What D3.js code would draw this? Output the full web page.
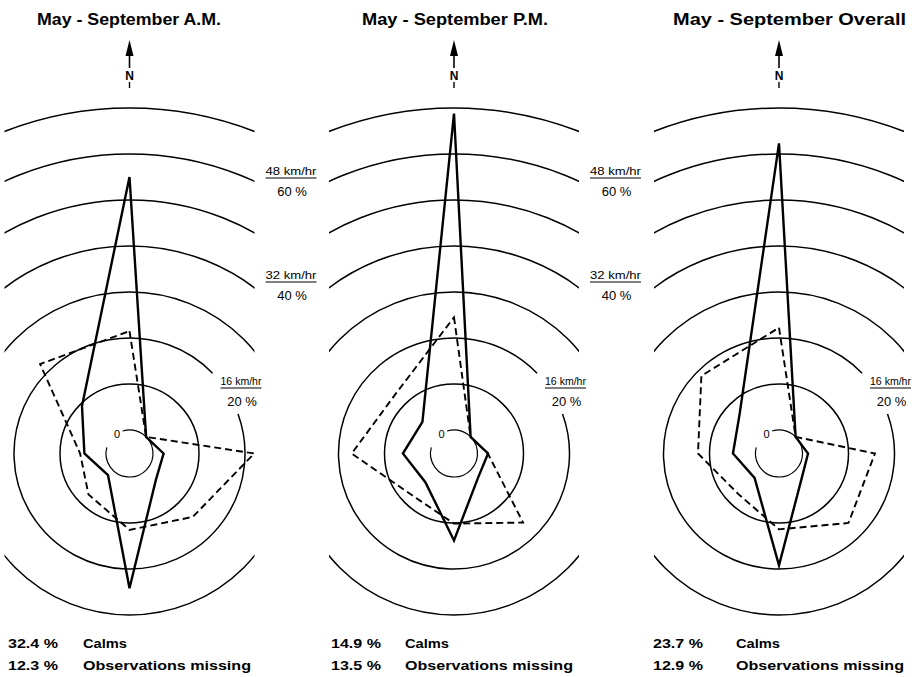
<!DOCTYPE html>
<html><head><meta charset="utf-8">
<script src="https://cdn.jsdelivr.net/npm/d3@7"></script>
<style>body{margin:0;background:#fff}svg{display:block}</style>
</head><body>
<svg id="chart" width="923" height="677"></svg>
<script>
// ---------------- DATA ----------------
const directions = ["N", "NE", "E", "SE", "S", "SW", "W", "NW"];
const panelTitles = ["May - September  A.M.", "May - September  P.M.", "May - September  Overall"];
// percent frequency of wind direction (solid line)
const freqAM      = [55.0, 0, 2.3, 3.0, 24.2, 1.5, 4.7, 9.5];
const freqPM      = [68.8, 0, 2.3, 2.3, 13.8, 3.7, 6.0, 4.6];
const freqOverall = [62.3, 0, 1.2, 2.0, 19.2, 2.4, 4.9, 7.0];
// mean wind speed, km/hr (dashed line)
const speedAM      = [17.2, 0, 17.6, 11.5, 9.2, 6.0, 4.5, 17.9];
const speedPM      = [19.6, 0, 1.8, 12.9, 8.1, 6.2, 13.7, 10.4];
const speedOverall = [17.8, 0, 12.6, 13.0, 9.1, 5.9, 10.0, 15.0];
const calmsPct   = ["32.4 %", "14.9 %", "23.7 %"];
const missingPct = ["12.3 %", "13.5 %", "12.9 %"];
const ringPercents = [10, 20, 30, 40, 50, 60, 70];
const speedTickLabels = ["16 km/hr", "32 km/hr", "48 km/hr"];
const pctTickLabels   = ["20 %", "40 %", "60 %"];

// ---------------- LAYOUT ----------------
const W = 923, H = 677;
const centersX = [129.5, 454, 779];
const centerY = 453.5;
const R0 = 23.5, ringStep = 46;
const freqSeries = [freqAM, freqPM, freqOverall];
const speedSeries = [speedAM, speedPM, speedOverall];
const titleX = [37, 362, 673], titleW = [184, 186, 233];
const noteX1 = [8, 331, 653], noteX2 = [83, 405, 736];

const svg = d3.select("#chart");
svg.append("rect").attr("width", W).attr("height", H).attr("fill", "#fff");

const rPct = d3.scaleLinear().domain([0, 70]).range([R0, R0 + 7 * ringStep]);
const rKmh = d3.scaleLinear().domain([0, 56]).range([R0, R0 + 7 * ringStep]);
const ang = d3.scaleLinear().domain([0, directions.length]).range([0, 2 * Math.PI]);

const lineFreq = d3.lineRadial().angle((d, i) => ang(i)).radius(d => rPct(d)).curve(d3.curveLinearClosed);
const lineSpeed = d3.lineRadial().angle((d, i) => ang(i)).radius(d => rKmh(d)).curve(d3.curveLinearClosed);
const rad = deg => deg * Math.PI / 180;

const defs = svg.append("defs");
const font = "'Liberation Sans', Arial, sans-serif";

panelTitles.forEach((title, i) => {
  const cx = centersX[i];
  defs.append("clipPath").attr("id", "clip" + i)
    .append("rect").attr("x", -125).attr("y", -362).attr("width", 250).attr("height", 525.5);

  // title
  svg.append("text").attr("x", titleX[i]).attr("y", 24.5)
    .attr("font-family", font).attr("font-weight", "bold").attr("font-size", 16)
    .attr("textLength", titleW[i]).attr("lengthAdjust", "spacingAndGlyphs")
    .text(title);

  // north arrow
  const na = svg.append("g").attr("transform", `translate(${cx},0)`);
  na.append("line").attr("x1", 0).attr("x2", 0).attr("y1", 50).attr("y2", 68).attr("stroke", "#000").attr("stroke-width", 1.6);
  na.append("path").attr("d", "M0,40 L-4,56 L4,56 Z").attr("fill", "#000");
  na.append("text").attr("x", 0).attr("y", 80).attr("text-anchor", "middle")
    .attr("font-family", font).attr("font-weight", "bold").attr("font-size", 12).text("N");
  na.append("line").attr("x1", 0).attr("x2", 0).attr("y1", 82).attr("y2", 88).attr("stroke", "#000").attr("stroke-width", 1.4);

  const g = svg.append("g").attr("transform", `translate(${cx},${centerY})`);
  const rings = g.append("g").attr("clip-path", `url(#clip${i})`);
  ringPercents.forEach(p => {
    const r = rPct(p);
    if (p === 20) {
      const pth = d3.path();
      pth.arc(0, 0, r, rad(-20), rad(316));
      rings.append("path").attr("d", pth.toString()).attr("fill", "none").attr("stroke", "#000").attr("stroke-width", 1.5);
    } else {
      rings.append("circle").attr("r", r).attr("fill", "none").attr("stroke", "#000").attr("stroke-width", 1.5);
    }
  });
  // calm circle with gap for "0"
  const cp = d3.path();
  cp.arc(0, 0, rPct(0), rad(-107), rad(195));
  g.append("path").attr("d", cp.toString()).attr("fill", "none").attr("stroke", "#000").attr("stroke-width", 1.2);
  g.append("text").attr("x", -12.5).attr("y", -16).attr("text-anchor", "middle")
    .attr("font-family", font).attr("font-size", 11).text("0");

  // wind speed (dashed)
  g.append("path").datum(speedSeries[i]).attr("d", lineSpeed)
    .attr("fill", "none").attr("stroke", "#000").attr("stroke-width", 1.9)
    .attr("stroke-dasharray", "7,4").attr("stroke-linejoin", "miter");
  // frequency (solid)
  g.append("path").datum(freqSeries[i]).attr("d", lineFreq)
    .attr("fill", "none").attr("stroke", "#000").attr("stroke-width", 2.4).attr("stroke-linejoin", "miter");

  // ring labels
  const lab = (x, yTop, kmh, pct, w, fs1, fs2) => {
    g.append("text").attr("x", x).attr("y", yTop).attr("font-family", font).attr("font-size", fs1)
      .attr("textLength", w).attr("lengthAdjust", "spacingAndGlyphs").text(kmh);
    g.append("line").attr("x1", x).attr("x2", x + w).attr("y1", yTop + 3).attr("y2", yTop + 3)
      .attr("stroke", "#000").attr("stroke-width", 1.2);
    g.append("text").attr("x", x + w / 2 + 1).attr("y", yTop + 21).attr("text-anchor", "middle")
      .attr("font-family", font).attr("font-size", fs2).text(pct);
  };
  lab(91, -68.5, speedTickLabels[0], pctTickLabels[0], 41, 10.5, 13);
  if (i < 2) {
    lab(136, -174.5, speedTickLabels[1], pctTickLabels[1], 51, 10.5, 13);
    lab(136, -278.5, speedTickLabels[2], pctTickLabels[2], 51, 10.5, 13);
  }

  // notes
  const note = (x, y, t, w) => {
    const el = svg.append("text").attr("x", x).attr("y", y).attr("font-family", font)
      .attr("font-weight", "bold").attr("font-size", 12.5).text(t);
    if (w) el.attr("textLength", w).attr("lengthAdjust", "spacingAndGlyphs");
  };
  note(noteX1[i], 648, calmsPct[i], 50);
  note(noteX2[i], 648, "Calms", 44);
  note(noteX1[i], 670, missingPct[i], 50);
  note(noteX2[i], 670, "Observations missing", 168);
});
</script>
</body></html>
